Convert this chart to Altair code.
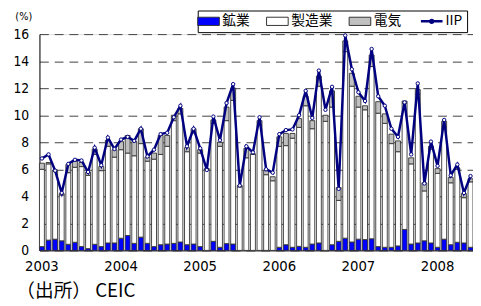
import altair as alt
import pandas as pd

# ---- data ----
months = [f"{y}-{m:02d}" for y in range(2003, 2009) for m in range(1, 13)][:66]

mining = [0.28, 0.76, 0.83, 0.71, 0.45, 0.60, 0.28, 0.13, 0.45, 0.28, 0.55, 0.55,
          0.90, 1.10, 0.52, 0.98, 0.52, 0.28, 0.42, 0.47, 0.52, 0.62, 0.42, 0.47,
          0.28, 0.00, 0.67, 0.23, 0.50, 0.47, 0.00, 0.00, 0.00, 0.00, 0.00, 0.00,
          0.23, 0.42, 0.23, 0.30, 0.23, 0.47, 0.55, 0.00, 0.42, 0.67, 0.90, 0.62,
          0.83, 0.80, 0.86, 0.28, 0.23, 0.23, 0.33, 1.55, 0.47, 0.55, 0.71, 0.55,
          0.23, 0.83, 0.42, 0.60, 0.55, 0.23]

manufacturing = [5.72, 5.64, 5.02, 3.39, 5.30, 5.55, 5.92, 5.42, 6.65, 5.62, 7.15, 6.35,
                 6.55, 6.10, 6.48, 6.92, 6.08, 6.47, 6.68, 7.23, 9.08, 9.48, 6.88, 8.23,
                 6.92, 6.00, 8.73, 7.47, 9.10, 10.63, 4.70, 6.85, 7.10, 9.30, 5.60, 5.15,
                 7.47, 7.33, 8.07, 8.80, 10.47, 8.53, 11.60, 9.55, 10.18, 3.03, 13.80, 11.53,
                 9.77, 9.60, 12.74, 9.87, 9.17, 7.67, 6.97, 9.35, 5.93, 11.00, 3.69, 6.95,
                 5.47, 8.27, 4.58, 5.40, 3.35, 4.84]

electricity = [0.45, 0.10, 0.10, 0.10, 0.60, 0.45, 0.30, 0.25, 0.40, 0.30, 0.45, 0.55,
               0.60, 1.30, 1.05, 1.10, 0.30, 0.45, 1.40, 0.80, 0.40, 0.40, 0.30, 0.30,
               0.25, 0.05, 0.25, 0.30, 1.00, 0.90, 0.10, 0.70, 0.05, 0.30, 0.30, 0.30,
               0.70, 0.90, 0.35, 0.65, 0.70, 0.60, 0.75, 0.45, 1.20, 0.95, 0.80, 0.95,
               0.80, 0.30, 0.85, 0.85, 0.70, 0.70, 0.80, 0.15, 0.45, 0.35, 0.60, 0.20,
               0.35, 0.45, 0.40, 0.10, 0.30, 0.23]

iip = [6.80, 7.10, 5.90, 4.25, 6.40, 6.70, 6.65, 5.80, 7.60, 6.30, 8.35, 7.50,
       8.20, 8.40, 8.10, 9.00, 6.95, 7.45, 8.60, 8.70, 9.85, 10.70, 7.70, 9.00,
       7.55, 5.95, 9.90, 8.15, 10.90, 12.30, 4.80, 7.70, 7.25, 9.85, 6.00, 5.75,
       8.60, 8.90, 8.95, 10.00, 11.80, 9.80, 13.30, 10.40, 12.10, 4.55, 15.90, 13.40,
       11.70, 11.05, 14.90, 11.40, 10.70, 9.00, 8.40, 10.95, 7.10, 12.35, 4.95, 8.05,
       6.25, 9.65, 5.55, 6.35, 4.25, 5.50]

series_names = ["鉱業", "製造業", "電気"]
legend_domain = ["鉱業", "製造業", "電気", "IIP"]
y_ticks = [0, 2, 4, 6, 8, 10, 12, 14, 16]

# ---- tables ----
rows = []
for i, mo in enumerate(months):
    for k, vals in enumerate([mining, manufacturing, electricity]):
        rows.append({"month": mo, "series": series_names[k], "value": vals[i], "ord": k})
bars_df = pd.DataFrame(rows)
line_df = pd.DataFrame({"month": months, "iip": iip})

# ---- styling ----
NUM_FONT = "Liberation Sans Narrow, DejaVu Sans Condensed, Liberation Sans, sans-serif"
JP_FONT = "Noto Sans CJK JP"

x_enc = alt.X(
    "month:O",
    scale=alt.Scale(paddingInner=0.25, paddingOuter=0),
    axis=alt.Axis(
        title="（出所） CEIC",
        titleFont=JP_FONT, titleFontSize=19, titleFontWeight="normal", titleColor="#000",
        titleX=-24, titleY=47, titleAlign="left", titleBaseline="alphabetic", titleAnchor="start",
        labelExpr="substring(datum.value, 5, 7) == '01' ? substring(datum.value, 0, 4) : ''",
        labelAngle=0, labelOverlap=False, labelFont=NUM_FONT, labelFontSize=15,
        labelColor="#000", labelPadding=8, ticks=False,
        domainColor="#000", domainWidth=1, grid=False,
    ),
)

y_scale = alt.Scale(domain=[0, 16], nice=False)
y_axis = alt.Axis(
    title="(%)", titleAngle=0, titleX=-25, titleY=-15, titleAlign="left",
    titleBaseline="alphabetic", titleFont=NUM_FONT, titleFontSize=11,
    titleFontWeight="normal", titleColor="#000",
    values=y_ticks, labelFont=NUM_FONT, labelFontSize=14, labelColor="#000",
    labelPadding=11, ticks=False, domainColor="#000", domainWidth=1,
    grid=True, gridColor="#404040", gridDash=[9, 6], gridWidth=1,
)

legend = alt.Legend(
    title=None, orient="none", legendX=161, legendY=-24, direction="horizontal",
    strokeColor="#000", fillColor="#ffffff", padding=4, columnPadding=15,
    labelFont=JP_FONT, labelFontSize=14, labelColor="#000", labelOffset=7,
    symbolSize=484,
    symbolType=alt.ExprRef(expr="datum.value === 'IIP' ? 'M-1,0H1M0.13,0A0.13,0.13,0,1,1,-0.13,0A0.13,0.13,0,1,1,0.13,0' : 'M-1,-0.38H1V0.38H-1Z'"),
    symbolStrokeWidth=alt.ExprRef(expr="datum.value === 'IIP' ? 2.5 : 1"),
)

bars = alt.Chart(bars_df).mark_bar(strokeWidth=0.9, opacity=1).encode(
    x=x_enc,
    y=alt.Y("value:Q", stack="zero", scale=y_scale, axis=y_axis),
    fill=alt.Fill("series:N", scale=alt.Scale(domain=legend_domain,
                  range=["#0000ff", "#ffffff", "#c0c0c0", "#ffffff"]), legend=legend),
    stroke=alt.Stroke("series:N", scale=alt.Scale(domain=legend_domain,
                  range=["#333333", "#333333", "#333333", "#000080"]), legend=legend),
    order=alt.Order("ord:Q", sort="ascending"),
)

line = alt.Chart(line_df).mark_line(
    color="#000080", strokeWidth=2.5,
    point=alt.OverlayMarkDef(filled=True, fill="#ffffff", stroke="#000080", strokeWidth=1, size=12),
).encode(
    x=x_enc,
    y=alt.Y("iip:Q", scale=y_scale, axis=y_axis),
)

chart = alt.layer(bars, line).properties(
    width=441, height=220,
    autosize=alt.AutoSizeParams(type="none"),
    padding={"left": 32, "top": 24, "right": 0, "bottom": 54},
).configure_view(stroke=None).configure(background="#ffffff")

chart.save("out.html", embed_options={"renderer": "svg", "actions": False})
